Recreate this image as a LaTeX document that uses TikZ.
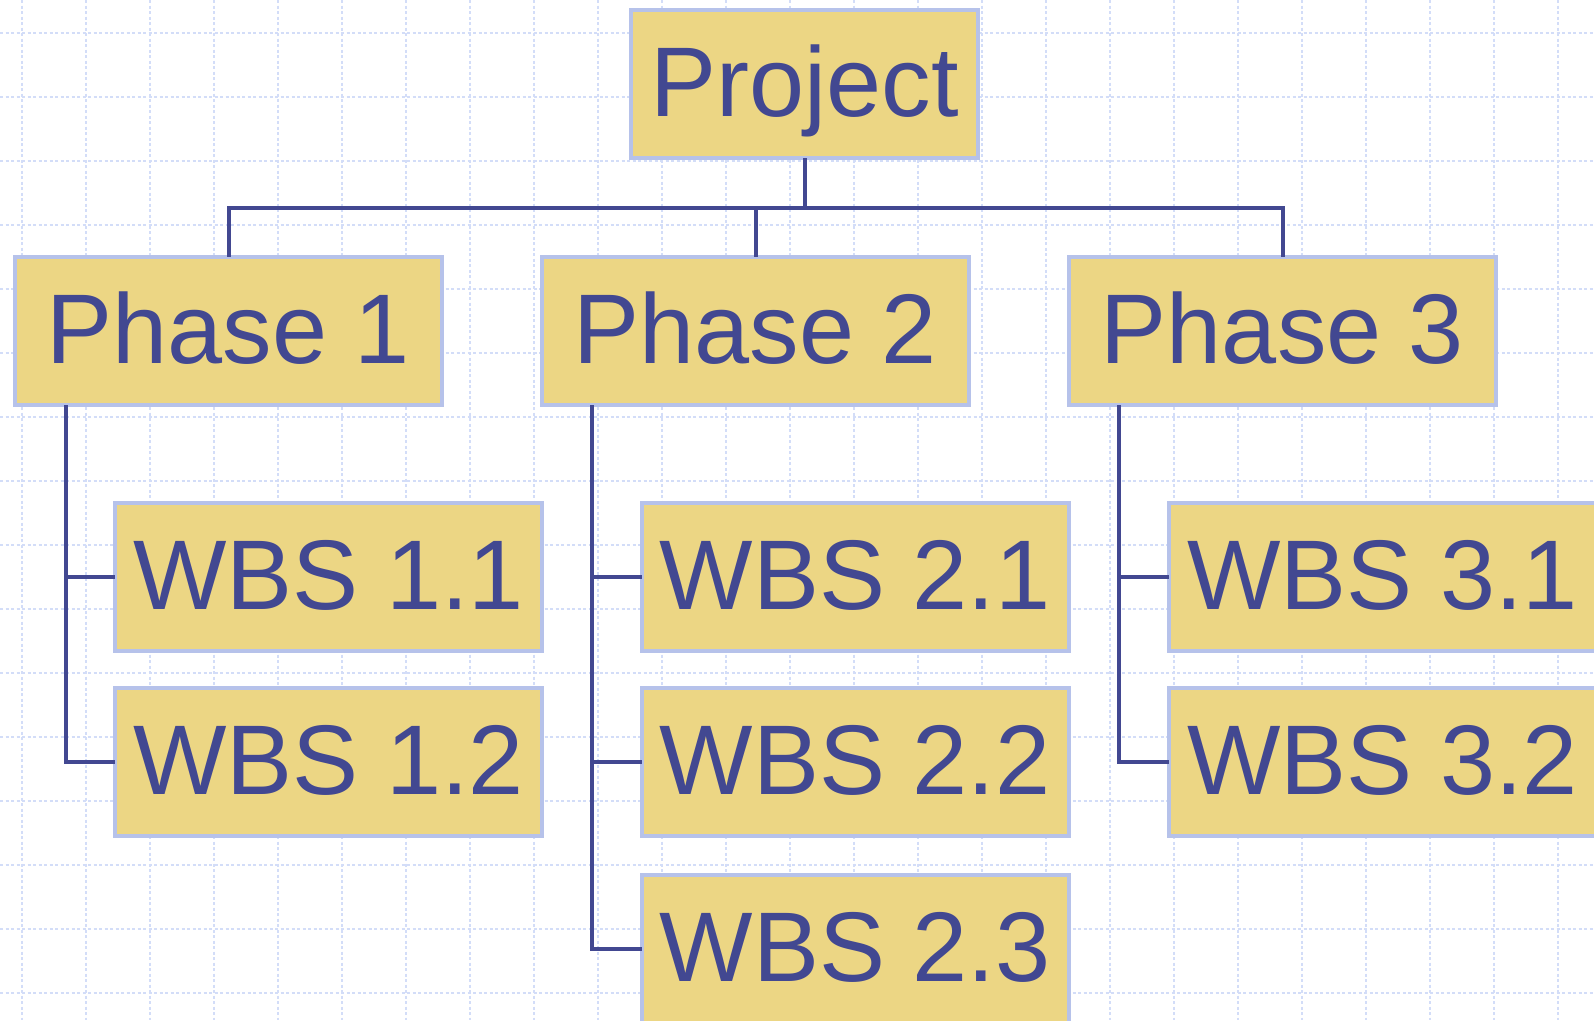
\documentclass[tikz,border=0pt]{standalone}
\usepackage{fontspec}
\setmainfont{Liberation Sans}
\definecolor{txt}{HTML}{424891}
\definecolor{boxfill}{HTML}{ECD684}
\definecolor{boxline}{HTML}{B6C2EA}
\definecolor{gridc}{HTML}{D3DDF8}
\tikzset{
  gridline/.style={draw=gridc, line width=1.3pt, dash pattern=on 3pt off 2.5pt},
  wbsbox/.style={draw=boxline, fill=boxfill, line width=4pt, text=txt,
    font=\fontsize{99}{110}\selectfont, text height=64pt, text depth=0pt,
    minimum height=148pt, inner ysep=0pt, inner xsep=0pt},
  cbox/.style={wbsbox},
  lbox/.style={wbsbox, minimum width=427pt},
  conn/.style={draw=txt, line width=4pt, line join=miter, line cap=rect}
}
\begin{document}
\begin{tikzpicture}[x=1pt, y=-1pt]
\path[use as bounding box, fill=white] (0,0) rectangle (1594,1020);
\clip (0,0) rectangle (1594,1020);
\foreach \gx in {22,86,...,1558} \draw[gridline] (\gx,0) -- (\gx,1020);
\foreach \gy in {33,97,...,993} \draw[gridline] (0,\gy) -- (1594,\gy);

\node[cbox, minimum width=347pt] (proj) at (804.5,84) {Project};
\node[cbox, minimum width=427pt] (p1) at (228.5,331) {Phase 1};
\node[cbox, minimum width=427pt] (p2) at (755.5,331) {Phase 2};
\node[cbox, minimum width=427pt] (p3) at (1282.5,331) {Phase 3};

\node[lbox] (w11) at (328.5,577) {WBS 1.1};
\node[lbox] (w12) at (328.5,762) {WBS 1.2};
\node[lbox] (w21) at (855,577) {WBS 2.1};
\node[lbox] (w22) at (855,762) {WBS 2.2};
\node[lbox] (w23) at (855,949) {WBS 2.3};
\node[lbox] (w31) at (1382.5,577) {WBS 3.1};
\node[lbox] (w32) at (1382.5,762) {WBS 3.2};

\coordinate (bus) at (0,208);
\coordinate (t1) at (66,0);
\coordinate (t2) at (592,0);
\coordinate (t3) at (1119,0);

\draw[conn] (proj.south) -- (proj.south |- bus);
\draw[conn] (p1.north) -- (p1.north |- bus) -- (p3.north |- bus) -- (p3.north);
\draw[conn] (p2.north) -- (p2.north |- bus);

\draw[conn] (t1 |- p1.south) |- (w12.west);
\draw[conn] (t1 |- w11.west) -- (w11.west);

\draw[conn] (t2 |- p2.south) |- (w23.west);
\draw[conn] (t2 |- w21.west) -- (w21.west);
\draw[conn] (t2 |- w22.west) -- (w22.west);

\draw[conn] (t3 |- p3.south) |- (w32.west);
\draw[conn] (t3 |- w31.west) -- (w31.west);
\end{tikzpicture}
\end{document}
